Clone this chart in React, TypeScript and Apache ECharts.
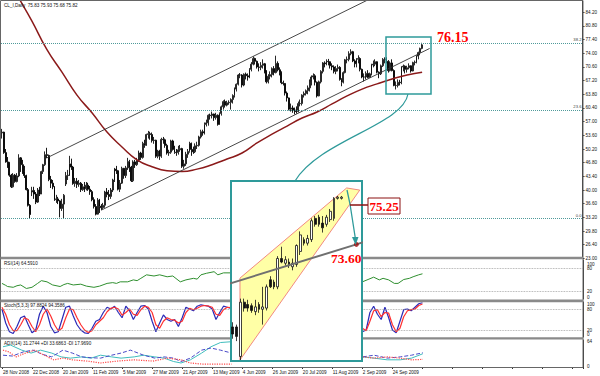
import React, { useEffect, useRef } from 'react';
import * as echarts from 'echarts';

// ---------------- data ----------------
const dateLabels = ['28 Nov 2008', '22 Dec 2008', '20 Jan 2009', '11 Feb 2009', '5 Mar 2009', '27 Mar 2009', '21 Apr 2009',
  '13 May 2009', '4 Jun 2009', '26 Jun 2009', '20 Jul 2009', '11 Aug 2009', '2 Sep 2009', '24 Sep 2009'];
const DATE_STEP = 16;
const SLOT_COUNT = 310;

// daily bars: [open, close, low, high]
const ohlc: number[][] = [
  [54.2, 54.4, 52.8, 55.2], [54.4, 49.3, 49.0, 54.5], [49.3, 47.0, 46.8, 50.2], [47.0, 46.8, 45.5, 48.2], [46.8, 43.7, 43.3, 47.0],
  [43.7, 40.8, 40.5, 44.0], [40.8, 43.7, 40.6, 44.2], [43.7, 42.1, 41.8, 44.0], [42.1, 43.5, 41.9, 44.2], [43.5, 48.0, 43.2, 48.9],
  [48.0, 46.3, 44.5, 48.2], [46.3, 44.5, 44.0, 47.5], [44.5, 43.6, 43.0, 46.0], [43.6, 40.1, 39.9, 43.8], [40.1, 36.2, 35.9, 40.5],
  [36.2, 33.9, 32.9, 36.5], [39.5, 39.9, 38.5, 40.8], [39.9, 39.0, 37.8, 40.8], [39.0, 37.0, 36.5, 39.5], [37.0, 40.0, 36.8, 40.5],
  [40.0, 39.0, 38.5, 40.8], [39.0, 44.6, 39.0, 44.8], [44.6, 46.3, 44.0, 46.5], [46.3, 48.8, 46.0, 49.6], [48.8, 48.6, 47.9, 50.5],
  [48.6, 42.6, 42.2, 48.8], [42.6, 41.7, 40.5, 43.5], [41.7, 40.8, 40.2, 42.5], [40.8, 37.6, 37.3, 41.0], [37.6, 37.8, 36.8, 38.8],
  [37.8, 37.3, 36.5, 38.3], [37.3, 35.4, 33.2, 37.5], [35.4, 36.5, 34.8, 37.8], [36.5, 38.7, 33.0, 39.0], [41.5, 43.6, 41.0, 44.5],
  [43.6, 43.7, 42.5, 45.0], [43.7, 46.5, 43.5, 48.5], [46.5, 45.7, 45.0, 47.8], [45.7, 41.6, 41.3, 46.0], [41.6, 42.2, 40.8, 43.0],
  [42.2, 41.4, 40.5, 43.0], [41.4, 41.7, 40.8, 42.5], [41.7, 40.1, 39.5, 42.0], [40.1, 40.8, 39.8, 41.5], [40.8, 40.3, 39.5, 42.0],
  [40.3, 41.2, 39.9, 42.0], [41.2, 40.2, 39.8, 41.8], [40.2, 39.6, 38.8, 41.0], [39.6, 37.6, 37.2, 40.0], [37.6, 35.9, 35.4, 38.2],
  [35.9, 34.0, 33.7, 36.5], [34.0, 37.5, 33.9, 38.0], [37.5, 36.0, 34.3, 37.8], [36.0, 35.6, 35.0, 36.5], [35.6, 36.2, 35.3, 36.8],
  [36.2, 39.5, 35.6, 39.8], [39.5, 38.9, 38.2, 40.5], [38.9, 38.4, 37.5, 40.0], [38.4, 40.0, 37.8, 40.5], [40.0, 42.5, 39.5, 42.8],
  [42.5, 45.2, 42.0, 45.5], [45.2, 44.8, 44.0, 46.0], [44.8, 40.2, 39.9, 45.0], [40.2, 41.7, 39.5, 42.5], [41.7, 45.4, 41.5, 45.8],
  [45.4, 43.6, 42.8, 45.5], [43.6, 45.5, 43.0, 46.0], [45.5, 47.1, 45.0, 48.0], [47.1, 45.7, 44.5, 47.5], [45.7, 42.3, 42.0, 46.0],
  [42.3, 47.0, 42.0, 47.4], [47.0, 46.3, 45.5, 47.5], [46.3, 47.4, 46.0, 48.0], [47.4, 49.2, 47.0, 49.8], [49.2, 48.1, 47.5, 49.5],
  [48.1, 51.6, 47.8, 52.0], [51.6, 51.1, 50.5, 52.5], [51.1, 53.8, 51.0, 54.0], [53.8, 54.0, 52.8, 54.7], [54.0, 53.8, 52.5, 54.5],
  [53.8, 52.3, 51.8, 54.3], [52.3, 52.4, 51.5, 53.2], [52.4, 48.4, 48.0, 52.5], [48.4, 49.7, 47.9, 50.0], [49.7, 48.4, 47.5, 50.0],
  [48.4, 52.6, 48.0, 53.0], [52.6, 52.5, 51.5, 53.2], [52.5, 51.1, 50.5, 52.8], [51.1, 49.2, 48.8, 51.5], [49.2, 49.4, 48.5, 50.0],
  [49.4, 52.2, 49.0, 52.5], [52.2, 50.1, 49.8, 52.5], [50.1, 49.4, 49.0, 51.0], [49.4, 49.3, 48.5, 50.2], [49.3, 50.0, 48.8, 51.0],
  [50.0, 50.3, 49.5, 51.2], [50.3, 45.9, 45.5, 50.5], [45.9, 46.5, 45.3, 47.5], [46.5, 48.9, 46.0, 49.5], [48.9, 49.6, 48.0, 50.2],
  [49.6, 51.6, 49.3, 52.0], [51.6, 50.1, 48.5, 51.8], [50.1, 49.5, 49.0, 50.8], [49.5, 51.0, 49.2, 51.6], [51.0, 51.1, 50.2, 52.0],
  [51.1, 53.2, 50.8, 53.5], [53.2, 54.5, 52.8, 55.0], [54.5, 54.2, 53.5, 55.0], [54.2, 56.3, 53.8, 56.8], [56.3, 56.7, 55.8, 57.5],
  [56.7, 58.6, 56.0, 58.8], [58.6, 58.5, 57.5, 59.0], [58.5, 58.9, 57.8, 59.5], [58.9, 58.0, 57.2, 59.0], [58.0, 58.6, 57.5, 59.2],
  [58.6, 56.3, 56.0, 58.8], [56.3, 59.0, 56.2, 59.3], [59.0, 60.7, 58.5, 61.0], [60.7, 62.0, 60.0, 62.3], [62.0, 61.1, 60.5, 62.5],
  [61.1, 61.7, 60.8, 62.2], [61.7, 61.8, 61.2, 62.3], [61.8, 62.5, 60.0, 62.8], [62.5, 63.5, 61.5, 63.8], [63.5, 65.1, 63.0, 65.5],
  [65.1, 66.3, 64.5, 66.5], [66.3, 68.6, 66.0, 68.8], [68.6, 68.6, 67.8, 69.1], [68.6, 66.1, 65.5, 68.8], [66.1, 68.8, 65.8, 69.0],
  [68.8, 68.4, 67.5, 69.2], [68.4, 68.1, 67.2, 69.0], [68.1, 70.0, 67.8, 70.3], [70.0, 71.3, 69.5, 71.8], [71.3, 72.7, 71.0, 73.2],
  [72.7, 72.0, 71.2, 72.9], [72.0, 70.6, 70.2, 72.2], [70.6, 70.5, 69.5, 71.5], [70.5, 71.0, 69.8, 71.8], [71.0, 71.4, 70.2, 72.5],
  [71.4, 69.6, 69.0, 71.6], [69.6, 66.9, 66.5, 69.8], [66.9, 68.3, 66.5, 68.8], [68.3, 68.7, 67.5, 69.5], [68.7, 70.2, 68.0, 70.5],
  [70.2, 69.2, 68.5, 70.8], [69.2, 71.5, 69.0, 73.4], [71.5, 69.9, 69.5, 72.0], [69.9, 69.3, 68.5, 70.5], [69.3, 66.7, 66.3, 69.5],
  [66.7, 66.5, 66.0, 67.2], [66.5, 64.1, 63.5, 66.6], [64.1, 62.9, 62.0, 64.5], [62.9, 60.1, 59.8, 63.0], [60.1, 60.4, 59.5, 61.5],
  [60.4, 59.9, 59.2, 61.0], [59.9, 59.7, 58.8, 60.5], [59.7, 59.5, 59.0, 60.8], [59.5, 61.5, 59.3, 62.0], [61.5, 61.5, 60.8, 62.5],
  [61.5, 63.6, 61.0, 63.8], [63.6, 64.0, 63.0, 64.5], [64.0, 64.7, 63.5, 65.0], [64.7, 65.4, 63.8, 66.0], [65.4, 67.1, 64.5, 67.5],
  [67.1, 68.1, 66.0, 68.5], [68.1, 68.4, 67.5, 69.0], [68.4, 66.8, 66.0, 68.8], [66.8, 63.4, 63.0, 67.0], [63.4, 66.9, 63.3, 67.2],
  [66.9, 69.5, 66.5, 69.8], [69.5, 71.6, 69.0, 71.8], [71.6, 71.4, 70.5, 72.0], [71.4, 72.0, 71.0, 72.5], [72.0, 71.9, 71.0, 72.6],
  [71.9, 70.9, 70.2, 72.0], [70.9, 70.6, 69.8, 71.5], [70.6, 69.5, 69.0, 71.0], [69.5, 70.2, 68.8, 70.8], [70.2, 70.5, 69.5, 71.2],
  [70.5, 67.5, 67.2, 70.8], [67.5, 66.8, 65.8, 67.8], [66.8, 69.2, 66.5, 69.5], [69.2, 72.4, 69.0, 72.6], [72.4, 72.5, 71.5, 73.2],
  [72.5, 73.9, 72.0, 74.5], [73.9, 74.4, 73.5, 75.0], [74.4, 72.1, 71.8, 74.6], [72.1, 71.4, 70.5, 72.5], [71.4, 72.5, 70.5, 72.8],
  [72.5, 72.7, 71.5, 73.5], [72.7, 70.0, 69.5, 73.0], [70.0, 68.1, 67.8, 70.2], [68.1, 68.1, 67.0, 69.0], [68.1, 69.0, 67.5, 69.5],
  [69.0, 68.0, 67.8, 69.8], [68.0, 68.9, 67.9, 69.2], [68.9, 71.1, 68.5, 71.4], [71.1, 71.3, 70.5, 72.2], [71.3, 71.9, 70.8, 72.5],
  [71.9, 69.3, 69.0, 72.0], [69.3, 68.9, 67.8, 69.5], [68.9, 70.9, 68.6, 71.2], [70.9, 72.5, 70.6, 72.8], [72.5, 72.5, 71.5, 73.0],
  [72.5, 72.0, 71.5, 73.0], [72.0, 69.7, 69.2, 72.3], [69.7, 71.6, 69.5, 72.0], [71.6, 69.7, 69.5, 72.5], [69.7, 66.0, 65.8, 70.0],
  [66.0, 66.0, 65.0, 67.0], [66.0, 66.8, 65.5, 67.5], [66.8, 66.7, 66.0, 67.4], [66.7, 70.6, 66.3, 70.8], [70.6, 70.8, 69.5, 71.2],
  [70.8, 70.0, 69.0, 71.0], [70.0, 70.4, 69.2, 70.9], [70.4, 70.9, 70.0, 71.5], [70.9, 69.6, 69.2, 71.0], [69.6, 71.7, 69.5, 71.9],
  [71.7, 71.8, 71.0, 72.2], [71.8, 73.3, 71.5, 73.5], [73.3, 74.2, 72.5, 74.4], [74.2, 75.2, 73.5, 75.4], [75.2, 76.1, 75.0, 76.6],
];

// moving average: [bar, value]
const movingAvg: number[][] = [
  [0, 95.7], [8, 88.6], [16, 82.0], [24, 74.9], [32, 69.3], [40, 63.6], [48, 59.2], [56, 54.4], [64, 50.7], [72, 47.5],
  [80, 45.8], [88, 44.8], [96, 44.6], [104, 45.2], [112, 46.3], [120, 47.7], [128, 49.2], [136, 51.7], [144, 53.9], [152, 55.9],
  [160, 57.9], [168, 59.4], [176, 61.4], [184, 63.4], [192, 65.1], [200, 66.4], [208, 67.6], [216, 68.6], [224, 69.3],
];
const upperChannel: number[][] = [[24, 48.0], [200, 88.4]];
const lowerChannel: number[][] = [[53, 35.0], [228, 75.2]];
const fibLevels = [76.6, 59.9, 33.0];
const fibNames = ['38.2', '23.6', '0.0'];

const rsi: (number | null)[][] = [
  [0, 40], [2, 35], [3, 32], [6, 30], [8, 34], [10, 36], [13, 27], [16, 30], [19, 40], [21, 47], [24, 44], [27, 36], [31, 32],
  [33, 37], [35, 40], [38, 36], [42, 38], [45, 33], [49, 30], [52, 33], [56, 40], [59, 42], [61, 40], [63, 44], [67, 44],
  [70, 49], [72, 47], [74, 53], [77, 62], [81, 59], [84, 62], [88, 57], [91, 59], [95, 44], [98, 49], [102, 53], [104, 51],
  [106, 62], [109, 66], [113, 70], [115, 62], [118, 67], [122, 67], [150, null],
  [192, 44], [195, 50], [198, 56], [201, 49], [203, 53], [206, 49], [209, 40], [211, 40], [214, 50], [217, 53], [219, 57],
  [222, 62], [224, 64.6],
];
const stochK: (number | null)[][] = [
  [0, 80], [2, 40], [4, 15], [6, 10], [8, 30], [10, 55], [12, 60], [14, 35], [16, 12], [18, 20], [20, 65], [22, 88], [24, 70],
  [26, 30], [28, 12], [30, 15], [32, 50], [34, 85], [36, 88], [38, 60], [40, 35], [42, 20], [44, 12], [46, 10], [48, 25],
  [50, 45], [52, 50], [54, 70], [56, 85], [58, 80], [60, 88], [62, 70], [64, 55], [66, 88], [68, 75], [70, 50], [72, 70],
  [74, 88], [76, 90], [78, 80], [80, 45], [82, 15], [84, 40], [86, 63], [88, 50], [90, 45], [92, 50], [94, 30], [96, 55],
  [98, 85], [100, 80], [102, 75], [104, 88], [106, 92], [108, 90], [110, 88], [112, 80], [114, 50], [116, 70], [118, 88],
  [120, 85], [122, 82], [150, null],
  [192, 15], [194, 20], [196, 70], [198, 88], [200, 65], [202, 50], [204, 85], [206, 55], [208, 20], [210, 12], [212, 45],
  [214, 78], [216, 80], [218, 75], [220, 85], [222, 95], [224, 97.9],
];
const stochD: (number | null)[][] = [
  [0, 85], [2, 65], [4, 35], [6, 18], [8, 18], [10, 35], [12, 55], [14, 50], [16, 30], [18, 15], [20, 35], [22, 65], [24, 80],
  [26, 60], [28, 35], [30, 18], [32, 25], [34, 55], [36, 80], [38, 78], [40, 55], [42, 35], [44, 20], [46, 13], [48, 18],
  [50, 35], [52, 45], [54, 55], [56, 72], [58, 82], [60, 85], [62, 80], [64, 62], [66, 70], [68, 80], [70, 65], [72, 62],
  [74, 78], [76, 88], [78, 85], [80, 70], [82, 35], [84, 25], [86, 45], [88, 55], [90, 50], [92, 48], [94, 40], [96, 45],
  [98, 70], [100, 82], [102, 78], [104, 82], [106, 88], [108, 90], [110, 88], [112, 85], [114, 65], [116, 62], [118, 78],
  [120, 85], [122, 84], [150, null],
  [192, 25], [194, 18], [196, 45], [198, 75], [200, 78], [202, 58], [204, 70], [206, 68], [208, 35], [210, 15], [212, 25],
  [214, 58], [216, 75], [218, 78], [220, 80], [222, 90], [224, 94.4],
];
const adxMain: (number | null)[][] = [
  [0, 48], [4, 52], [10, 40], [15, 33], [20, 40], [26, 33], [31, 24], [36, 21], [42, 24], [47, 21], [52, 28], [58, 24],
  [63, 21], [70, 24], [75, 28], [81, 24], [86, 21], [91, 13], [95, 9.5], [100, 17], [106, 33], [111, 48], [116, 58], [122, 60],
  [150, null], [192, 24], [198, 21], [205, 17], [212, 17], [218, 21], [224, 31.3],
];
const plusDI: (number | null)[][] = [
  [0, 28], [5, 26], [11, 36], [16, 40], [21, 30], [26, 24], [32, 40], [37, 33], [42, 24], [47, 22], [52, 21], [58, 28],
  [63, 33], [68, 40], [75, 28], [81, 21], [86, 24], [91, 21], [95, 13], [100, 21], [106, 40], [111, 45], [116, 40], [122, 33],
  [150, null], [192, 24], [198, 28], [205, 21], [212, 24], [218, 28], [224, 33.7],
];
const minusDI: (number | null)[][] = [
  [0, 40], [3, 36], [7, 24], [12, 33], [17, 40], [22, 28], [27, 17], [32, 21], [37, 17], [45, 14], [52, 9.5], [61, 14],
  [70, 17], [80, 14], [88, 21], [95, 17], [100, 9.5], [106, 7], [113, 7], [122, 7],
  [150, null], [192, 24], [198, 21], [205, 24], [212, 21], [218, 17], [224, 18],
];

// inset (zoomed view): [slot, open, close, low, high]
const insetBars: number[][] = [
  [0, 70.1, 69.8, 69.6, 70.3], [1, 70.1, 69.7, 69.5, 70.2], [2, 68.85, 71.15, 68.7, 71.3], [3, 71.15, 70.9, 70.75, 71.3],
  [4, 71.05, 70.9, 70.75, 71.25], [5, 71.0, 70.8, 70.7, 71.1], [6, 70.75, 70.95, 70.6, 71.25], [7, 71.05, 70.85, 70.7, 71.15],
  [8, 70.85, 70.95, 70.2, 71.8], [9, 70.9, 71.8, 70.8, 71.9], [10, 72.1, 71.8, 71.75, 72.25], [11, 72.0, 71.8, 71.7, 72.1],
  [12, 71.8, 73.0, 71.7, 73.1], [13, 73.0, 72.85, 72.8, 73.5], [14, 72.8, 72.95, 72.7, 73.1], [15, 72.85, 72.7, 72.6, 73.0],
  [16, 72.65, 72.8, 72.5, 73.0], [17, 72.75, 73.55, 72.65, 73.6], [18, 73.3, 74.0, 73.15, 74.15], [19, 73.8, 73.65, 73.55, 73.9],
  [20, 73.65, 73.85, 73.55, 74.0], [21, 73.8, 74.6, 73.7, 74.7], [22, 74.7, 74.45, 74.35, 74.8], [23, 74.75, 74.45, 74.35, 74.85],
  [24, 74.5, 74.3, 74.1, 74.8], [25, 74.45, 74.75, 74.35, 74.85], [26, 74.65, 75.0, 74.55, 75.1], [27, 74.7, 75.55, 74.6, 75.6],
  [28, 75.55, 75.6, 75.5, 75.65], [29, 75.55, 75.6, 75.5, 75.65],
];
const wedge: number[][] = [[1.9, 72.17], [30.4, 75.99], [33.9, 75.9], [1.9, 68.7]];
const insetTrend: number[][] = [[-1, 71.93], [33, 73.6], [35, 73.7]];
const insetTarget: number[][] = [[33, 73.6]];
const insetLevels = [75.95, 75.52];

// ---------------- chart ----------------
const TEAL = '#2e9a9a';
const SANS = 'Liberation Sans, Arial, sans-serif';
const SERIF = 'Liberation Serif, Times New Roman, serif';
const small = 4.6;

function buildOption() {
  const cats = Array.from({ length: SLOT_COUNT }, (_, i) => String(i));
  const lastClose = ohlc[ohlc.length - 1][1];
  const catAxis = (gi: number, labels: boolean) => ({
    type: 'category', gridIndex: gi, data: cats, boundaryGap: true,
    axisLine: { show: labels, lineStyle: { color: '#333' } },
    axisTick: labels ? { show: true, interval: DATE_STEP - 1, length: 2, lineStyle: { color: '#333' } } : { show: false },
    axisLabel: labels ? {
      show: true, interval: DATE_STEP - 1, align: 'left', margin: 3, fontSize: small, color: '#111', fontFamily: SANS,
      formatter: (_v: string, idx: number) => (idx % DATE_STEP === 0 && dateLabels[idx / DATE_STEP]) ? dateLabels[idx / DATE_STEP] : '',
    } : { show: false },
    splitLine: { show: false },
  });
  const indAxis = (gi: number, max: number) => ({
    type: 'value', gridIndex: gi, position: 'right', min: 0, max,
    axisLine: { show: true, lineStyle: { color: '#333' } }, axisTick: { show: false },
    axisLabel: { show: false }, splitLine: { show: false },
  });
  const levelLine = (vals: number[]) => ({
    silent: true, symbol: 'none', label: { show: false },
    lineStyle: { type: 'dotted', color: '#9a9a9a', width: 0.8 },
    data: vals.map((v) => ({ yAxis: v })),
  });
  const line = (gi: number, data: any, color: string, type = 'solid', width = 1, smooth: any = false) => ({
    type: 'line', xAxisIndex: gi, yAxisIndex: gi, data, symbol: 'none', smooth, silent: true,
    lineStyle: { color, width, type }, connectNulls: false,
  });
  const txt = (x: number, y: number, text: string, extra: any = {}) => ({
    type: 'text', x, y, z: 6, silent: true,
    style: { text, fill: '#111', fontSize: small, fontFamily: SANS, verticalAlign: 'middle', ...extra },
  });

  return {
    animation: false,
    backgroundColor: '#ffffff',
    textStyle: { fontFamily: SANS },
    grid: [
      { left: 1, top: 1, width: 582, height: 257.4 },
      { left: 1, top: 260, width: 582, height: 39 },
      { left: 1, top: 302, width: 582, height: 35 },
      { left: 1, top: 340, width: 582, height: 27 },
      { left: 231, top: 183, width: 131, height: 177 },
    ],
    xAxis: [
      catAxis(0, false), catAxis(1, false), catAxis(2, false), catAxis(3, true),
      { type: 'value', gridIndex: 4, min: -0.5, max: 34.5, show: false },
    ],
    yAxis: [
      {
        type: 'value', gridIndex: 0, position: 'right', min: 23, max: 87, interval: 3.4,
        axisLine: { show: true, lineStyle: { color: '#333' } },
        axisTick: { show: true, length: 2, lineStyle: { color: '#333' } },
        axisLabel: { fontSize: small, color: '#111', margin: 3, showMaxLabel: false, formatter: (v: number) => v.toFixed(2) },
        splitLine: { show: false },
      },
      indAxis(1, 100), indAxis(2, 100), indAxis(3, 64),
      { type: 'value', gridIndex: 4, min: 68.7, max: 76.2, show: false },
    ],
    series: [
      {
        type: 'candlestick', xAxisIndex: 0, yAxisIndex: 0, data: ohlc, barWidth: 1.4, silent: true,
        itemStyle: { color: '#ffffff', color0: '#000000', borderColor: '#111111', borderColor0: '#000000', borderWidth: 0.9 },
        markLine: {
          silent: true, symbol: 'none',
          lineStyle: { type: 'dotted', color: '#4f9a9a', width: 1 },
          label: { position: 'insideEndTop', formatter: '{b}', fontSize: 4.2, color: '#444', distance: 1 },
          data: [
            ...fibLevels.map((v, k) => ({ yAxis: v, name: fibNames[k] })),
            {
              yAxis: lastClose, name: 'price', lineStyle: { opacity: 0 },
              label: {
                position: 'end', formatter: lastClose.toFixed(2), backgroundColor: '#000', color: '#fff',
                fontSize: small, padding: [1, 1, 0, 1], distance: 1,
              },
            },
          ],
        },
      },
      line(0, movingAvg, '#8b1a1a', 'solid', 1.5, 0.5),
      line(0, upperChannel, '#333333', 'solid', 0.9),
      line(0, lowerChannel, '#333333', 'solid', 0.9),
      { ...line(1, rsi, '#2f8f2f', 'solid', 1), markLine: levelLine([80, 20]) },
      { ...line(2, stochK, '#2a2ab8', 'solid', 1.2), markLine: levelLine([80, 20]) },
      line(2, stochD, '#ff3030', 'solid', 1.2),
      line(3, adxMain, '#40bdbd', 'solid', 1),
      line(3, plusDI, '#4a4ac8', 'dashed', 1),
      line(3, minusDI, '#ff4a4a', 'dotted', 1.2),
      // inset
      {
        type: 'custom', xAxisIndex: 4, yAxisIndex: 4, z: 21, silent: true, data: [[0, 70]],
        renderItem: (_p: any, api: any) => ({
          type: 'polygon',
          shape: { points: wedge.map((pt) => api.coord(pt)) },
          style: { fill: '#ffffa6', stroke: '#f28a80', lineWidth: 1 },
        }),
      },
      {
        type: 'candlestick', xAxisIndex: 4, yAxisIndex: 4, z: 22, silent: true, data: insetBars, barWidth: 2.3,
        encode: { x: 0, y: [1, 2, 3, 4] },
        itemStyle: { color: '#ffffff', color0: '#111111', borderColor: '#111111', borderColor0: '#111111', borderWidth: 0.8 },
        markLine: {
          silent: true, symbol: 'none', label: { show: false },
          data: [
            { yAxis: insetLevels[0], lineStyle: { type: 'dotted', color: '#8aa', width: 1 } },
            { yAxis: insetLevels[1], lineStyle: { type: 'solid', color: '#c8c8c8', width: 1 } },
          ],
        },
      },
      {
        type: 'line', xAxisIndex: 4, yAxisIndex: 4, z: 23, silent: true, data: insetTrend, symbol: 'none',
        lineStyle: { color: '#707070', width: 2 },
      },
      {
        type: 'scatter', xAxisIndex: 4, yAxisIndex: 4, z: 24, silent: true, data: insetTarget, symbolSize: 5,
        itemStyle: { color: '#a01010' },
      },
    ],
    graphic: [
      { type: 'rect', z: 5, silent: true, shape: { x: 0.5, y: 0.5, width: 582.5, height: 367 }, style: { fill: 'none', stroke: '#666', lineWidth: 1 } },
      { type: 'rect', z: 5, silent: true, shape: { x: 0.5, y: 256.8, width: 582.5, height: 2.4 }, style: { fill: '#8a8a8a' } },
      { type: 'rect', z: 5, silent: true, shape: { x: 0.5, y: 299.6, width: 582.5, height: 2.6 }, style: { fill: '#8a8a8a' } },
      { type: 'rect', z: 5, silent: true, shape: { x: 0.5, y: 337.2, width: 582.5, height: 2.4 }, style: { fill: '#8a8a8a' } },
      txt(4, 5, 'CL_I,Daily  75.83 75.93 75.68 75.82'),
      txt(4, 263, 'RSI(14) 64.5910'),
      txt(4, 305.5, 'Stoch(5,3,3) 97.8824 94.3586'),
      txt(4, 343, 'ADX(14) 31.2744 +DI 33.6863 -DI 17.9690'),
      txt(587, 264, '100'), txt(587, 268.5, '80'), txt(587, 291.5, '20'), txt(587, 297, '0'),
      txt(587, 304.5, '100'), txt(587, 309, '80'), txt(587, 330, '20'), txt(587, 334.5, '0'),
      txt(587, 341.5, '64'), txt(587, 366, '0'),
      // inset frame
      { type: 'rect', z: 10, silent: true, shape: { x: 231, y: 181, width: 131, height: 180 }, style: { fill: '#ffffff', stroke: TEAL, lineWidth: 2 } },
      // callout box + connector
      { type: 'rect', z: 30, silent: true, shape: { x: 386, y: 37, width: 45, height: 57 }, style: { fill: 'none', stroke: TEAL, lineWidth: 1.5 } },
      {
        type: 'bezierCurve', z: 30, silent: true,
        shape: { x1: 408, y1: 94, cpx1: 403, cpy1: 125, cpx2: 320, cpy2: 140, x2: 295, y2: 181 },
        style: { fill: 'none', stroke: TEAL, lineWidth: 1.2 },
      },
      {
        type: 'text', z: 30, silent: true, x: 437, y: 37,
        style: { text: '76.15', fill: '#ff0000', fontSize: 14, fontWeight: 'bold', fontFamily: SERIF, verticalAlign: 'middle' },
      },
      // arrow in inset
      { type: 'polyline', z: 30, silent: true, shape: { points: [[347, 190], [350, 204], [355.3, 238]] }, style: { fill: 'none', stroke: TEAL, lineWidth: 1.3 } },
      { type: 'polygon', z: 30, silent: true, shape: { points: [[352, 237], [358.5, 237], [355.6, 245]] }, style: { fill: TEAL } },
      // 75.25 callout
      { type: 'line', z: 30, silent: true, shape: { x1: 350, y1: 205, x2: 368, y2: 205 }, style: { stroke: '#8b1010', lineWidth: 1.5 } },
      { type: 'rect', z: 30, silent: true, shape: { x: 368, y: 198, width: 32, height: 16 }, style: { fill: '#ffffff', stroke: '#8b1010', lineWidth: 1 } },
      {
        type: 'text', z: 31, silent: true, x: 384, y: 206.5,
        style: { text: '75.25', fill: '#ff0000', fontSize: 13, fontWeight: 'bold', fontFamily: SERIF, align: 'center', verticalAlign: 'middle' },
      },
      {
        type: 'text', z: 31, silent: true, x: 331, y: 258.5,
        style: { text: '73.60', fill: '#ff0000', fontSize: 13.5, fontWeight: 'bold', fontFamily: SERIF, verticalAlign: 'middle' },
      },
    ],
  };
}

export default function App() {
  const ref = useRef<HTMLDivElement>(null);
  useEffect(() => {
    if (!ref.current) return;
    const chart = echarts.init(ref.current, null, { renderer: 'svg' });
    chart.setOption(buildOption() as any);
    return () => chart.dispose();
  }, []);
  return <div ref={ref} style={{ position: 'absolute', left: 0, top: 0, width: 600, height: 376, background: '#fff' }} />;
}
